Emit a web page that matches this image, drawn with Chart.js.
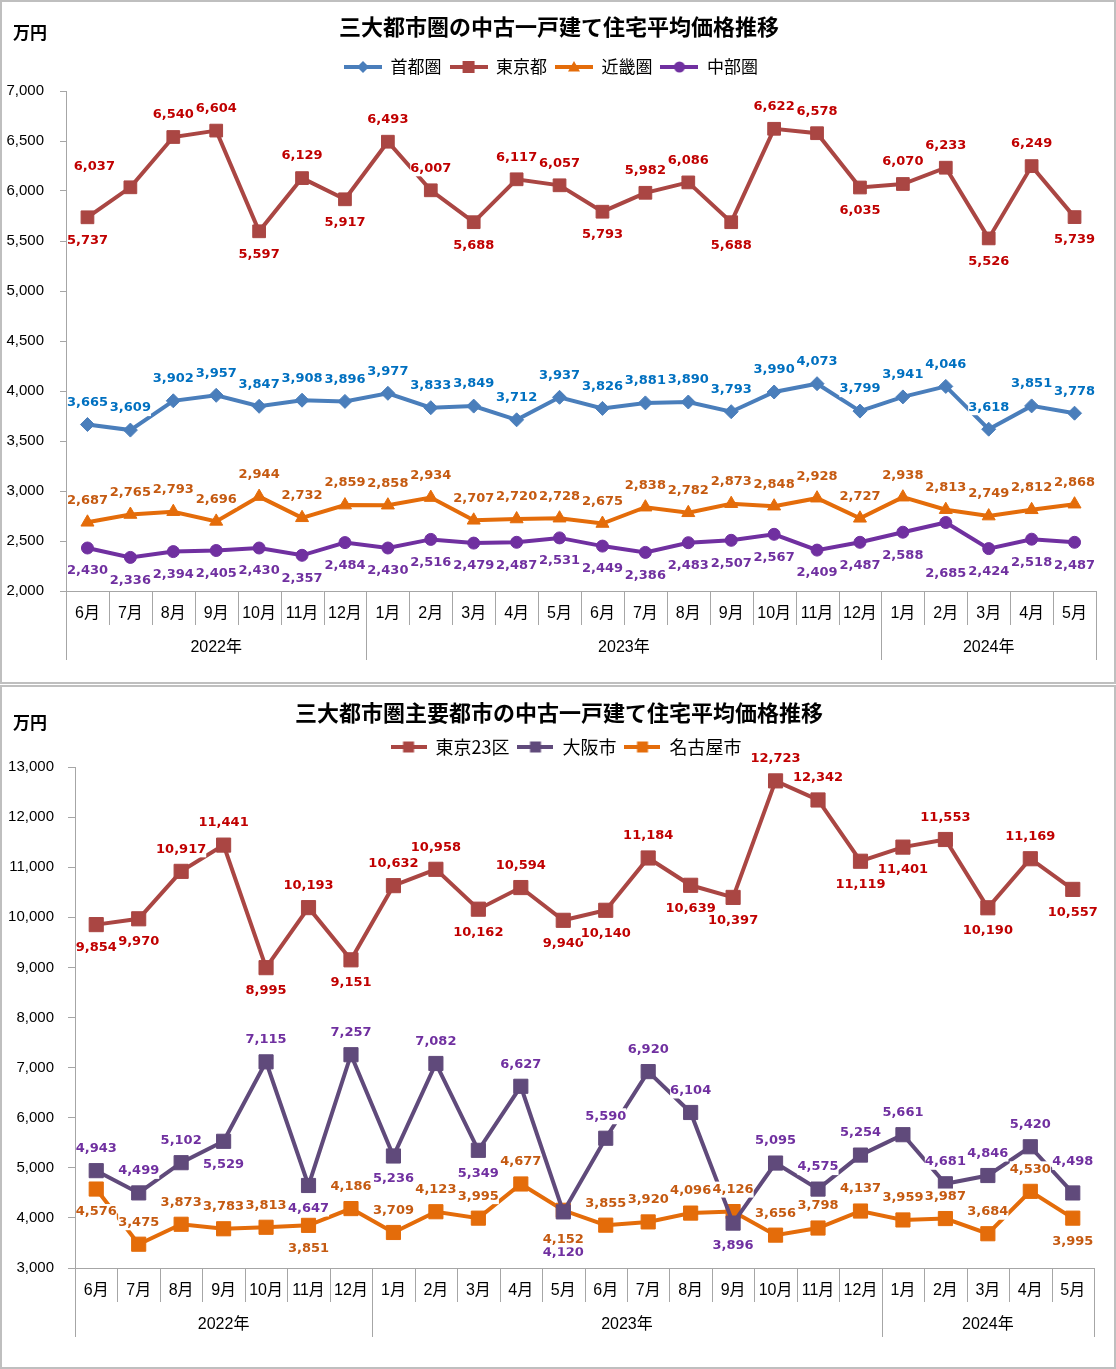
<!DOCTYPE html>
<html lang="ja">
<head>
<meta charset="utf-8">
<title>三大都市圏の中古一戸建て住宅平均価格推移</title>
<script src="https://cdn.jsdelivr.net/npm/chart.js@4.4.1/dist/chart.umd.min.js"></script>
<style>
  html, body { margin: 0; padding: 0; background: #fff; }
  .box { position: absolute; left: 0; width: 1112px; height: 680px; border: 2px solid #bfbfbf; }
  #box1 { top: 0; }
  #box2 { top: 685px; }
  canvas { display: block; }
</style>
</head>
<body>
<div class="box" id="box1"><canvas id="c1" width="1112" height="680"></canvas></div>
<div class="box" id="box2"><canvas id="c2" width="1112" height="680"></canvas></div>
<script>
// categories (2022年6月 .. 2024年5月)
const months = ['6月','7月','8月','9月','10月','11月','12月','1月','2月','3月','4月','5月',
                '6月','7月','8月','9月','10月','11月','12月','1月','2月','3月','4月','5月'];
const yearLabels = ['2022年', '2023年', '2024年'];
const yearMonthCounts = [7, 12, 5];

// 三大都市圏 (万円)
const shutoken = [3665, 3609, 3902, 3957, 3847, 3908, 3896, 3977, 3833, 3849, 3712, 3937,
                  3826, 3881, 3890, 3793, 3990, 4073, 3799, 3941, 4046, 3618, 3851, 3778];
const tokyoto  = [5737, 6037, 6540, 6604, 5597, 6129, 5917, 6493, 6007, 5688, 6117, 6057,
                  5793, 5982, 6086, 5688, 6622, 6578, 6035, 6070, 6233, 5526, 6249, 5739];
const kinki    = [2687, 2765, 2793, 2696, 2944, 2732, 2859, 2858, 2934, 2707, 2720, 2728,
                  2675, 2838, 2782, 2873, 2848, 2928, 2727, 2938, 2813, 2749, 2812, 2868];
const chubu    = [2430, 2336, 2394, 2405, 2430, 2357, 2484, 2430, 2516, 2479, 2487, 2531,
                  2449, 2386, 2483, 2507, 2567, 2409, 2487, 2588, 2685, 2424, 2518, 2487];

// 主要都市 (万円)
const tokyo23 = [9854, 9970, 10917, 11441, 8995, 10193, 9151, 10632, 10958, 10162, 10594, 9940,
                 10140, 11184, 10639, 10397, 12723, 12342, 11119, 11401, 11553, 10190, 11169, 10557];
const osaka   = [4943, 4499, 5102, 5529, 7115, 4647, 7257, 5236, 7082, 5349, 6627, 4120,
                 5590, 6920, 6104, 3896, 5095, 4575, 5254, 5661, 4681, 4846, 5420, 4498];
const nagoya  = [4576, 3475, 3873, 3783, 3813, 3851, 4186, 3709, 4123, 3995, 4677, 4152,
                 3855, 3920, 4096, 4126, 3656, 3798, 4137, 3959, 3987, 3684, 4530, 3995];

// where each value label sits relative to its point
const rep = (c) => Array(24).fill(c);
const shutokenPos = rep('t');
const tokyotoPos = 'b tl t t b t b t t b t t b t t b t t b t t b t b'.split(' ');
const kinkiPos = rep('t');
const chubuPos = 'b b b b b b b b b b b b b b b b b b b b bx b b b'.split(' ');
const tokyo23Pos = 'b b t t b t b t t b t b b t b b t t b b t b t b'.split(' ');
const osakaPos = 't t t b t b t b t b t bb t t t b t t t t t t t tt'.split(' ');
const nagoyaPos = 'b t t t t b t t t t t bm t t t t t t t t t t t b'.split(' ');

const OFFSETS = { t: [0, -22], tt: [0, -31], tl: [-36, -21], b: [0, 23], bm: [0, 29], bb: [0, 41], bx: [0, 51] };

Chart.defaults.font.family = '"Liberation Sans", "Noto Sans CJK JP", sans-serif';

function legendIcon(color, shape, size, w) {
  const c = document.createElement('canvas');
  c.width = w; c.height = 16;
  const g = c.getContext('2d');
  g.strokeStyle = color; g.fillStyle = color; g.lineWidth = 4;
  g.beginPath(); g.moveTo(0, 8); g.lineTo(w, 8); g.stroke();
  const cx = w / 2, cy = 8, r = size / 2;
  g.beginPath();
  if (shape === 'rectRot') { g.moveTo(cx, cy - r); g.lineTo(cx + r, cy); g.lineTo(cx, cy + r); g.lineTo(cx - r, cy); }
  else if (shape === 'rect') g.rect(cx - r, cy - r, 2 * r, 2 * r);
  else if (shape === 'triangle') { g.moveTo(cx, cy - r); g.lineTo(cx + r, cy + r * 0.75); g.lineTo(cx - r, cy + r * 0.75); }
  else g.arc(cx, cy, r, 0, Math.PI * 2);
  g.closePath(); g.fill();
  return c;
}

function lineSet(label, data, color, style, radius, labelColor, labelPos, icon) {
  return {
    label, data, borderColor: color, backgroundColor: color, borderWidth: 4,
    pointStyle: style, pointRadius: radius, pointBorderWidth: 1,
    pointBorderColor: color, pointBackgroundColor: color, tension: 0,
    labelColor, labelPos, legendIcon: icon
  };
}

// two-level category axis: months, then years, with separators
const catAxis = {
  id: 'catAxis',
  afterDraw(chart) {
    const { ctx, chartArea } = chart;
    const x = chart.scales.x;
    const n = chart.data.labels.length;
    const step = x.getPixelForValue(1) - x.getPixelForValue(0);
    const left = x.getPixelForValue(0) - step / 2;
    const base = chartArea.bottom;
    const edges = [0];
    yearMonthCounts.forEach(c => edges.push(edges[edges.length - 1] + c));
    ctx.save();
    ctx.strokeStyle = '#a6a6a6';
    ctx.lineWidth = 1;
    for (let i = 0; i <= n; i++) {
      const px = Math.round(left + step * i) + 0.5;
      const len = edges.includes(i) ? 69 : 34;
      ctx.beginPath(); ctx.moveTo(px, base); ctx.lineTo(px, base + len); ctx.stroke();
    }
    ctx.fillStyle = '#000';
    ctx.font = '16px "Liberation Sans", "Noto Sans CJK JP"';
    ctx.textAlign = 'center';
    ctx.textBaseline = 'middle';
    chart.data.labels.forEach((m, i) => ctx.fillText(m, x.getPixelForValue(i), base + 23));
    yearLabels.forEach((y, k) => {
      ctx.fillText(y, left + step * (edges[k] + edges[k + 1]) / 2, base + 57);
    });
    ctx.restore();
  }
};

// value labels with white boxes, drawn over the lines like Excel does
const valueLabels = {
  id: 'valueLabels',
  afterDatasetsDraw(chart) {
    const { ctx, chartArea } = chart;
    ctx.save();
    ctx.font = 'bold 13px "DejaVu Sans"';
    ctx.textAlign = 'center';
    ctx.textBaseline = 'middle';
    chart.data.datasets.forEach((ds, di) => {
      chart.getDatasetMeta(di).data.forEach((pt, i) => {
        const [dx, dy] = OFFSETS[ds.labelPos[i]];
        const text = ds.data[i].toLocaleString('en-US');
        const w = ctx.measureText(text).width;
        const cx = pt.x + dx, cy = pt.y + dy;
        ctx.fillStyle = '#fff';
        ctx.fillRect(cx - w / 2, cy - 8, w, 16);
        ctx.fillStyle = ds.labelColor;
        ctx.fillText(text, cx, cy);
      });
    });
    // keep the value axis line on top of the label boxes
    const ax = Math.round(chart.scales.y.right) + 0.5;
    ctx.strokeStyle = '#a6a6a6';
    ctx.lineWidth = 1;
    ctx.beginPath(); ctx.moveTo(ax, chartArea.top); ctx.lineTo(ax, chartArea.bottom); ctx.stroke();
    ctx.restore();
  }
};

// "万円" unit text, plus a nudge so title/legend centre on the whole frame
const unitLabel = {
  id: 'unitLabel',
  afterLayout(chart, args, opts) {
    const shift = (box, d) => { if (box && d) { box.left += d; box.right += d; } };
    shift(chart.titleBlock, opts.titleShift);
    shift(chart.legend, opts.legendShift);
  },
  afterDraw(chart, args, opts) {
    const ctx = chart.ctx;
    ctx.save();
    ctx.font = 'bold 17px "Noto Sans CJK JP"';
    ctx.fillStyle = '#000';
    ctx.textBaseline = 'middle';
    ctx.fillText('万円', opts.x, opts.y);
    ctx.restore();
  }
};

function options(p) {
  return {
    responsive: false,
    animation: false,
    events: [],
    layout: { padding: { left: 0, right: p.right, top: 0, bottom: 0 } },
    scales: {
      x: {
        type: 'category', offset: true,
        grid: { display: false }, ticks: { display: false },
        border: { display: true, color: '#a6a6a6', width: 1 },
        afterFit: s => { s.height = p.axisHeight; }
      },
      y: {
        min: p.min, max: p.max,
        ticks: { stepSize: p.step, color: '#000', padding: p.tickPad, font: { size: 15 },
                 callback: v => v.toLocaleString('en-US') },
        grid: { drawOnChartArea: false, tickLength: p.tickLen, tickColor: '#a6a6a6', color: '#a6a6a6' },
        border: { color: '#a6a6a6', width: 1 },
        afterFit: s => { s.width = p.axisWidth; }
      }
    },
    plugins: {
      title: {
        display: true, text: p.title, color: '#000',
        font: { size: 22, weight: 'bold', family: '"Noto Sans CJK JP"', lineHeight: 1.2 },
        padding: { top: p.titleTop, bottom: p.titleBottom }
      },
      subtitle: { display: true, text: '', weight: 500, font: { size: 1, lineHeight: 1 },
                  padding: { top: p.gap, bottom: 0 } },
      legend: {
        labels: {
          usePointStyle: true, pointStyleWidth: p.iconWidth, padding: 8, color: '#000',
          font: { size: p.legendSize, family: '"Noto Sans CJK JP"' },
          generateLabels(chart) {
            const items = Chart.defaults.plugins.legend.labels.generateLabels(chart);
            items.forEach(it => { it.pointStyle = chart.data.datasets[it.datasetIndex].legendIcon; });
            return items;
          }
        }
      },
      tooltip: { enabled: false },
      unitLabel: { x: 11, y: p.unitY, titleShift: p.titleShift, legendShift: p.legendShift }
    }
  };
}

new Chart(document.getElementById('c1'), {
  type: 'line',
  data: {
    labels: months,
    datasets: [
      lineSet('首都圏', shutoken, '#4a7ebb', 'rectRot', 7, '#0070c0', shutokenPos, legendIcon('#4a7ebb', 'rectRot', 12, 38)),
      lineSet('東京都', tokyoto, '#aa4643', 'rect', 9, '#c00000', tokyotoPos, legendIcon('#aa4643', 'rect', 12, 38)),
      lineSet('近畿圏', kinki, '#e46c0a', 'triangle', 7.5, '#c55a11', kinkiPos, legendIcon('#e46c0a', 'triangle', 12, 38)),
      lineSet('中部圏', chubu, '#7030a0', 'circle', 6, '#7030a0', chubuPos, legendIcon('#7030a0', 'circle', 11, 38))
    ]
  },
  options: options({
    title: '三大都市圏の中古一戸建て住宅平均価格推移',
    min: 2000, max: 7000, step: 500,
    right: 18, axisWidth: 64, axisHeight: 91, tickLen: 6, tickPad: 16,
    titleTop: 11.8, titleBottom: 10.3, gap: 4.5, iconWidth: 38, legendSize: 17,
    titleShift: 10, legendShift: 2, unitY: 31
  }),
  plugins: [catAxis, valueLabels, unitLabel]
});

new Chart(document.getElementById('c2'), {
  type: 'line',
  data: {
    labels: months,
    datasets: [
      lineSet('東京23区', tokyo23, '#aa4643', 'rect', 10, '#c00000', tokyo23Pos, legendIcon('#aa4643', 'rect', 11, 36)),
      lineSet('大阪市', osaka, '#604a7b', 'rect', 10, '#7030a0', osakaPos, legendIcon('#604a7b', 'rect', 11, 36)),
      lineSet('名古屋市', nagoya, '#e46c0a', 'rect', 10, '#c55a11', nagoyaPos, legendIcon('#e46c0a', 'rect', 11, 36))
    ]
  },
  options: options({
    title: '三大都市圏主要都市の中古一戸建て住宅平均価格推移',
    min: 3000, max: 13000, step: 1000,
    right: 20, axisWidth: 73, axisHeight: 99, tickLen: 7, tickPad: 14,
    titleTop: 12.8, titleBottom: 3.8, gap: 0, iconWidth: 36, legendSize: 18,
    titleShift: 11, legendShift: 18, unitY: 36
  }),
  plugins: [catAxis, valueLabels, unitLabel]
});
</script>
</body>
</html>
